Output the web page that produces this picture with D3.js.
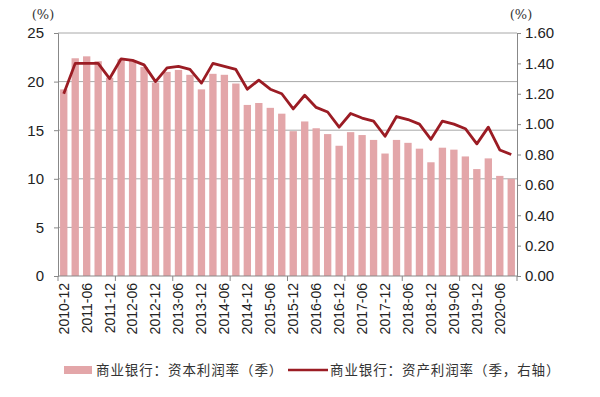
<!DOCTYPE html>
<html>
<head>
<meta charset="utf-8">
<script src="https://cdn.jsdelivr.net/npm/d3@7"></script>
<style>
  body { margin: 0; background: #fff; }
  .tick text { font-family: "Liberation Sans Narrow", "Arial Narrow", sans-serif; font-size: 15px; fill: #222; }
  .x-axis .tick text { font-family: "Liberation Sans", Arial, sans-serif; font-size: 14px; }
  .unit { font-family: "DejaVu Serif", "Liberation Serif", serif; font-size: 13px; fill: #333; }
  .legend text { font-family: "Noto Sans CJK SC", sans-serif; font-size: 13.5px; letter-spacing: 0.9px; fill: #333; }
</style>
</head>
<body>
<svg id="chart" width="600" height="397"></svg>
<script>
// quarters, 2010-12 .. 2020-09
const quarters = [
  '2010-12',
  '2011-03', '2011-06', '2011-09', '2011-12',
  '2012-03', '2012-06', '2012-09', '2012-12',
  '2013-03', '2013-06', '2013-09', '2013-12',
  '2014-03', '2014-06', '2014-09', '2014-12',
  '2015-03', '2015-06', '2015-09', '2015-12',
  '2016-03', '2016-06', '2016-09', '2016-12',
  '2017-03', '2017-06', '2017-09', '2017-12',
  '2018-03', '2018-06', '2018-09', '2018-12',
  '2019-03', '2019-06', '2019-09', '2019-12',
  '2020-03', '2020-06', '2020-09'
];

// 商业银行：资本利润率（季）, left axis
const roe = [
  19.2,
  22.4, 22.6, 22.1, 20.4,
  22.3, 22.2, 21.5, 19.9,
  21.0, 21.2, 20.7, 19.2,
  20.8, 20.7, 19.8, 17.6,
  17.8, 17.3, 16.7, 14.9,
  15.9, 15.2, 14.6, 13.4,
  14.8, 14.5, 14.0, 12.6,
  14.0, 13.7, 13.1, 11.7,
  13.2, 13.0, 12.3, 11.0,
  12.1, 10.3, 10.0
];

// 商业银行：资产利润率（季，右轴）
const roa = [
  1.20,
  1.40, 1.40, 1.40, 1.30,
  1.43, 1.42, 1.39, 1.28,
  1.37, 1.38, 1.36, 1.27,
  1.40, 1.38, 1.36, 1.23,
  1.29, 1.23, 1.20, 1.10,
  1.19, 1.11, 1.08, 0.98,
  1.07, 1.04, 1.02, 0.92,
  1.05, 1.03, 1.00, 0.90,
  1.02, 1.00, 0.97, 0.87,
  0.98, 0.83, 0.80
];

const leftTicks = [0, 5, 10, 15, 20, 25];
const rightTicks = [0, 0.2, 0.4, 0.6, 0.8, 1.0, 1.2, 1.4, 1.6];
const legendLabels = ['商业银行：资本利润率（季）', '商业银行：资产利润率（季，右轴）'];

const BAR_COLOR = '#e3a6a9';
const LINE_COLOR = '#9b1c24';
const GRID_COLOR = '#a8a8a8';

const margin = { top: 33, right: 83, bottom: 121, left: 58 };
const svg = d3.select('#chart');
const width = +svg.attr('width') - margin.left - margin.right;
const height = +svg.attr('height') - margin.top - margin.bottom;

const g = svg.append('g').attr('transform', `translate(${margin.left},${margin.top})`);

const x = d3.scaleBand().domain(quarters).range([0, width])
  .paddingInner(0.36).paddingOuter(0.18);
const yL = d3.scaleLinear().domain([0, 25]).range([height, 0]);
const yR = d3.scaleLinear().domain([0, 1.6]).range([height, 0]);

// gridlines follow the left axis
g.append('g')
  .selectAll('line')
  .data(leftTicks.slice(1))
  .join('line')
  .attr('x1', 0).attr('x2', width)
  .attr('y1', d => yL(d)).attr('y2', d => yL(d))
  .attr('stroke', GRID_COLOR).attr('stroke-width', 1);

// bars
g.append('g')
  .selectAll('rect')
  .data(quarters)
  .join('rect')
  .attr('x', d => x(d))
  .attr('width', x.bandwidth())
  .attr('y', (d, i) => yL(roe[i]))
  .attr('height', (d, i) => height - yL(roe[i]))
  .attr('fill', BAR_COLOR);

// line on the right axis
const line = d3.line()
  .x((d, i) => x(quarters[i]) + x.bandwidth() / 2)
  .y(d => yR(d));

g.append('path')
  .datum(roa)
  .attr('d', line)
  .attr('fill', 'none')
  .attr('stroke', LINE_COLOR)
  .attr('stroke-width', 2.8)
  .attr('stroke-linejoin', 'round');

// axes
const leftAxis = g.append('g')
  .call(d3.axisLeft(yL).tickValues(leftTicks).tickSize(4).tickPadding(12));

const rightAxis = g.append('g')
  .attr('transform', `translate(${width},0)`)
  .call(d3.axisRight(yR).tickValues(rightTicks).tickFormat(d3.format('.2f')).tickSize(4).tickPadding(4));

// x axis: tick marks every 5 quarters, labels every 2 quarters
const step = width / quarters.length;
const xAxis = g.append('g').attr('class', 'x-axis')
  .attr('transform', `translate(0,${height})`);

xAxis.append('line')
  .attr('x1', 0).attr('x2', width)
  .attr('stroke', '#888');

xAxis.selectAll('line.mark')
  .data(quarters.filter((d, i) => i % 5 === 0).concat(['end']))
  .join('line')
  .attr('class', 'mark')
  .attr('x1', (d, i) => i * 5 * step).attr('x2', (d, i) => i * 5 * step)
  .attr('y1', 0).attr('y2', 5)
  .attr('stroke', '#888');

xAxis.selectAll('g.tick')
  .data(quarters.filter((d, i) => i % 2 === 0))
  .join('g')
  .attr('class', 'tick')
  .attr('transform', d => `translate(${x(d) + x.bandwidth() / 2},7)`)
  .append('text')
  .attr('transform', 'rotate(-90)')
  .attr('text-anchor', 'end')
  .attr('dy', '0.35em')
  .text(d => d);

[leftAxis, rightAxis].forEach(ax => {
  ax.select('.domain').attr('stroke', '#888');
  ax.selectAll('.tick line').attr('stroke', '#888');
});
leftAxis.selectAll('.tick text').attr('dx', 2);

// units
svg.append('text').attr('class', 'unit')
  .attr('x', 43).attr('y', 19).attr('text-anchor', 'middle').text('(%)');
svg.append('text').attr('class', 'unit')
  .attr('x', 521).attr('y', 19).attr('text-anchor', 'middle').text('(%)');

// legend
const legend = svg.append('g').attr('class', 'legend')
  .attr('transform', 'translate(0,370)');

legend.append('rect')
  .attr('x', 64).attr('y', -4).attr('width', 28).attr('height', 8)
  .attr('fill', BAR_COLOR);
legend.append('text')
  .attr('x', 96).attr('dy', '0.35em').text(legendLabels[0]);

legend.append('line')
  .attr('x1', 288).attr('x2', 328)
  .attr('stroke', LINE_COLOR).attr('stroke-width', 2.6);
legend.append('text')
  .attr('x', 330).attr('dy', '0.35em').text(legendLabels[1]);
</script>
</body>
</html>
